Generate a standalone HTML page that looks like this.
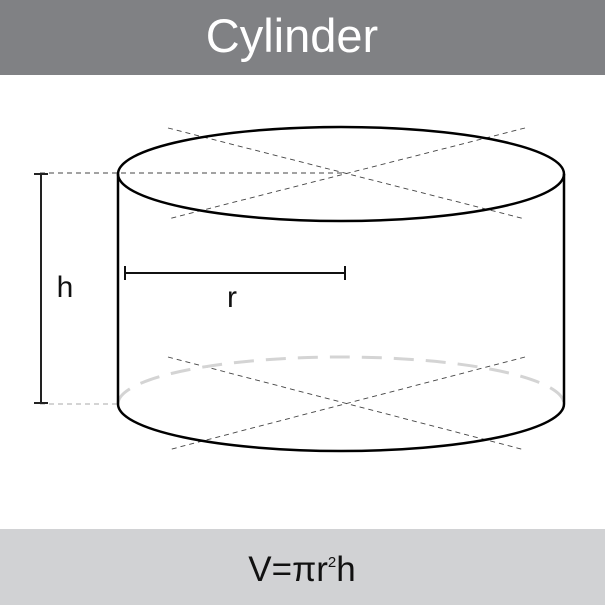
<!DOCTYPE html>
<html><head><meta charset="utf-8"><style>
body{margin:0;width:605px;height:605px;background:#fff;overflow:hidden;font-family:"Liberation Sans",sans-serif}
</style></head><body>
<svg width="605" height="605" viewBox="0 0 605 605">
<rect x="0" y="0" width="605" height="75" fill="#808184"/>
<text x="292" y="52" text-anchor="middle" font-size="47" fill="#fff" font-family="Liberation Sans, sans-serif">Cylinder</text>
<rect x="0" y="529" width="605" height="76" fill="#d1d2d4"/>
<text x="302" y="581" text-anchor="middle" font-size="35" fill="#111">V=πr<tspan font-size="15" dy="-14">2</tspan><tspan dy="14">h</tspan></text>
<g stroke="#444" stroke-width="0.9" stroke-dasharray="5,4" fill="none">
<line x1="168" y1="128" x2="525" y2="219"/>
<line x1="525" y1="128" x2="168" y2="219"/>
<line x1="168" y1="357" x2="525" y2="450"/>
<line x1="525" y1="357" x2="168" y2="450"/>
<line x1="40" y1="173" x2="345" y2="173"/>
<line x1="40" y1="404" x2="118" y2="404" stroke="#aaa"/>
</g>
<path d="M118,404 A223,47 0 0 1 564,404" fill="none" stroke="#d4d4d4" stroke-width="3" stroke-dasharray="20,12"/>
<path d="M118,404 A223,47 0 0 0 564,404" fill="none" stroke="#000" stroke-width="2.5"/>
<ellipse cx="341" cy="174" rx="223" ry="47" fill="none" stroke="#000" stroke-width="2.5"/>
<line x1="118" y1="174" x2="118" y2="404" stroke="#000" stroke-width="2.5"/>
<line x1="564" y1="174" x2="564" y2="404" stroke="#000" stroke-width="2.5"/>
<g stroke="#222" stroke-width="2">
<line x1="41" y1="174" x2="41" y2="403"/>
<line x1="34" y1="174" x2="48" y2="174"/>
<line x1="34" y1="403" x2="48" y2="403"/>
</g>
<text x="65" y="297" text-anchor="middle" font-size="30" fill="#111">h</text>
<g stroke="#111" stroke-width="2">
<line x1="125" y1="273" x2="345" y2="273"/>
<line x1="125" y1="266" x2="125" y2="280"/>
<line x1="345" y1="266" x2="345" y2="280"/>
</g>
<text x="232" y="307" text-anchor="middle" font-size="30" fill="#111">r</text>
</svg>
</body></html>
